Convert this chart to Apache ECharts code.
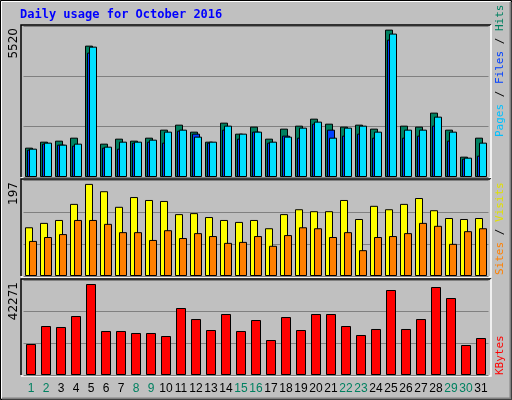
<!DOCTYPE html>
<html><head><meta charset="utf-8">
<script src="https://cdn.jsdelivr.net/npm/echarts@6/dist/echarts.min.js"></script>
<style>html,body{margin:0;padding:0;background:#c0c0c0}#c{width:512px;height:400px}</style>
</head><body><div id="c"></div>
<script>
const days = ['1','2','3','4','5','6','7','8','9','10','11','12','13','14','15','16','17','18','19','20','21','22','23','24','25','26','27','28','29','30','31'];
const weekend = ['1','2','8','9','15','16','22','23','29','30'];
const hits  = [1073,1292,1329,1438,4803,1219,1402,1329,1438,1731,1914,1658,1292,1987,1585,1841,1402,1768,1877,2133,1950,1841,1914,1768,5388,1877,1841,2353,1731,744,1438];
const files = [1036,1256,1182,1219,4766,1109,1292,1292,1365,1658,1731,1475,1292,1877,1585,1658,1292,1475,1804,2024,1438,1804,1877,1658,5242,1731,1731,2206,1658,707,1256];
const pages = [1000,1219,1182,1146,4547,1073,1036,1256,1292,1256,1694,1585,1256,1731,1402,1658,1256,1512,1438,1950,1731,1512,1585,1438,5022,1438,1512,1877,1329,670,780];
const visits = [100,109,115,148,189,174,142,162,156,154,127,129,121,115,111,115,98,127,137,133,133,156,117,144,137,148,160,135,119,117,119];
const sites  = [72,80,86,115,115,107,90,90,74,94,78,88,82,68,70,82,62,84,100,98,80,90,53,80,82,88,109,103,66,92,98];
const kbytes = [13800,21800,21360,26250,40490,19580,19580,18690,18690,17350,29810,24910,20020,27140,19580,24470,15570,25800,20020,27140,27140,21800,17800,20470,37820,20470,24910,39150,34260,13350,16460];
const maxLabels = ['5520','197','42271'];
const maxVals = [5520,197,42271];

const chart = echarts.init(document.getElementById('c'));
const panels = [{top:26,height:151},{top:180,height:96},{top:280,height:95}];
const grids = panels.map(p=>({left:23.5,width:465,top:p.top,height:p.height}));
const lf = 'Liberation Sans';
const xAxes = grids.map((g,i)=>({type:'category',gridIndex:i,data:days,
  axisLine:{show:false},axisTick:{show:false},
  axisLabel:{show:i===2,margin:8,fontFamily:lf,fontSize:12,interval:0,
    formatter:v=>weekend.includes(v)?'{w|'+v+'}':'{d|'+v+'}',
    rich:{w:{color:'#008060',fontSize:12,fontFamily:lf},d:{color:'#000',fontSize:12,fontFamily:lf}}}}));
const yAxes = maxVals.map((m,i)=>({type:'value',gridIndex:i,min:0,max:m,interval:m/3,
  axisLabel:{show:false},axisLine:{show:false},axisTick:{show:false},
  splitLine:{lineStyle:{color:'#808080',width:1}}}));
const bs = (name,data,color,gi,w,gap)=>({name,type:'bar',xAxisIndex:gi,yAxisIndex:gi,data,barWidth:w,barGap:gap,
  itemStyle:{color,borderColor:'#000',borderWidth:1},animation:false});
const series = [
  bs('Hits',hits,'#008060',0,8,'-75%'),
  bs('Pages',pages,'#0040ff',0,8,'-75%'),
  bs('Files',files,'#00e0ff',0,8,'-75%'),
  bs('Visits',visits,'#ffff00',1,8,'-50%'),
  bs('Sites',sites,'#ff8000',1,8,'-50%'),
  bs('KBytes',kbytes,'#ff0000',2,10,'0%')
];
const graphics = [
  {type:'rect',shape:{x:0.5,y:0.5,width:511,height:399},style:{fill:'none',stroke:'#000',lineWidth:1},z:-1},
  {type:'polyline',shape:{points:[[1.5,398],[1.5,1.5],[510,1.5]]},style:{fill:'none',stroke:'#fff',lineWidth:1}},
  {type:'polyline',shape:{points:[[2,398.5],[510.5,398.5],[510.5,2]]},style:{fill:'none',stroke:'#808080',lineWidth:2}},
  {type:'text',left:20,top:9,style:{text:'Daily usage for October 2016',fill:'#0000ff',font:'bold 12px "DejaVu Sans Mono"'}}
];
panels.forEach((p,i)=>{
  graphics.push({type:'polyline',shape:{points:[[21,p.top+p.height],[21,p.top-1],[491,p.top-1]]},style:{fill:'none',stroke:'#000',lineWidth:1.5}});
  graphics.push({type:'polyline',shape:{points:[[21,p.top+p.height+1],[491,p.top+p.height+1],[491,p.top-1]]},style:{fill:'none',stroke:'#fff',lineWidth:1.5}});
  graphics.push({type:'text',x:8,y:p.top+2,rotation:Math.PI/2,style:{text:maxLabels[i],fill:'#000',font:'12px "DejaVu Sans"',align:'right',verticalAlign:'top'}});
});
function vlabel(parts,y0){
  graphics.push({type:'text',x:495,y:y0,rotation:Math.PI/2,style:{text:parts.map((p,i)=>'{s'+i+'|'+p[0]+'}').join(''),
    font:'11px "DejaVu Sans Mono"',align:'left',verticalAlign:'top',
    rich:Object.fromEntries(parts.map((p,i)=>['s'+i,{fill:p[1],font:'11px "DejaVu Sans Mono"'}]))}});
}
vlabel([['Pages','#00c0ff'],[' / ','#000'],['Files','#0040ff'],[' / ','#000'],['Hits','#008060']],137);
vlabel([['Sites','#ff8000'],[' / ','#000'],['Visits','#e0e000']],275);
vlabel([['KBytes','#ff0000']],375);
chart.setOption({backgroundColor:'#c0c0c0',animation:false,grid:grids,xAxis:xAxes,yAxis:yAxes,series,graphic:graphics});
</script></body></html>
